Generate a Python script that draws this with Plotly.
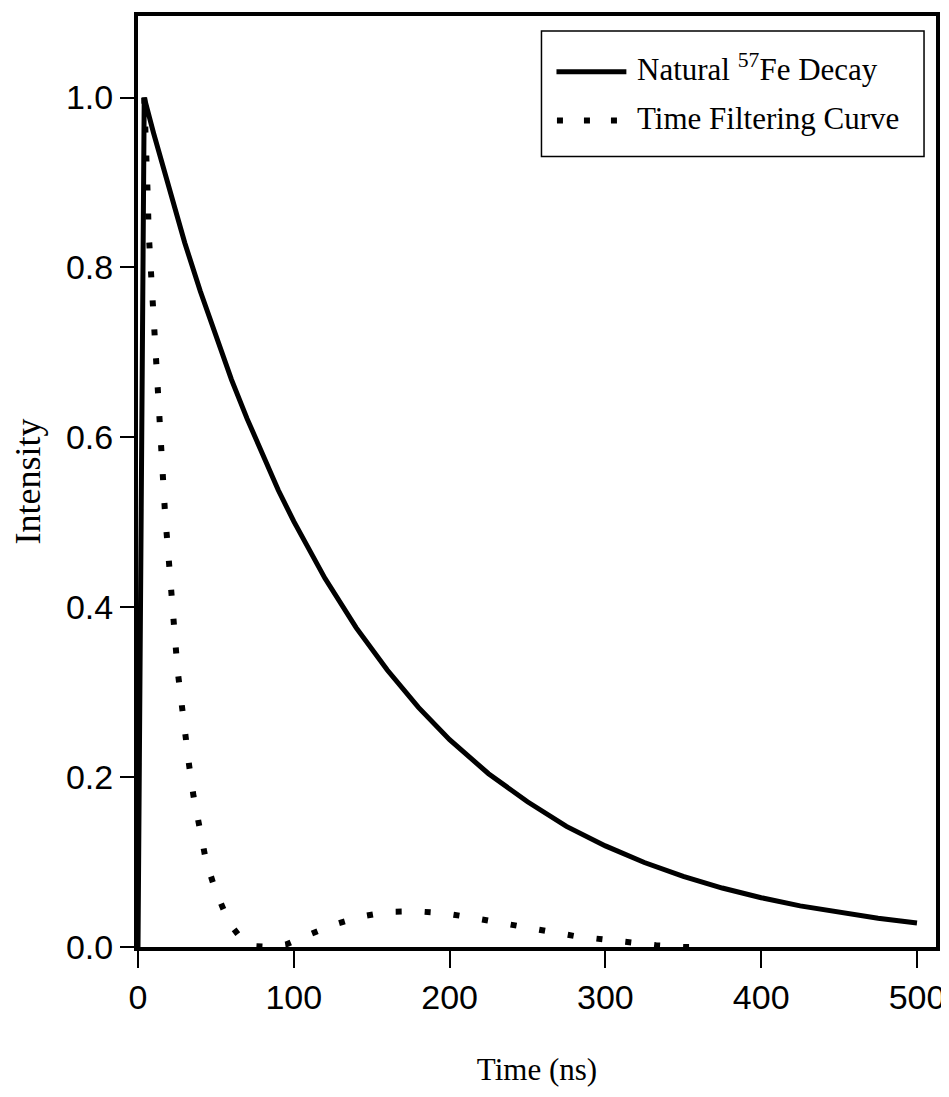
import plotly.graph_objects as go

# ---- data ----
decay_t = [0, 4, 10, 20, 30, 40, 50, 60, 70, 80, 90, 100, 120, 140, 160, 180, 200,
           225, 250, 275, 300, 325, 350, 375, 400, 425, 450, 475, 500]
decay_v = [0.0, 1.0, 0.958, 0.891, 0.829, 0.772, 0.718, 0.668, 0.622, 0.579, 0.538,
           0.501, 0.434, 0.376, 0.326, 0.282, 0.244, 0.204, 0.171, 0.142, 0.119,
           0.0995, 0.0831, 0.0694, 0.058, 0.0484, 0.0404, 0.0338, 0.0282]

filter_t = [4.0, 5.0, 5.8, 6.3, 6.8, 7.9, 9.1, 10.0, 11.0, 12.1, 13.4, 14.7, 16.0, 17.4,
            19.0, 20.4, 21.9, 23.6, 25.4, 27.9, 30.0, 32.8, 35.6, 39.4, 43.6, 49.8,
            58.7, 67, 75, 85, 95, 108.6, 126.2, 143.7, 161.1, 178.4, 195.6, 212.9,
            230.1, 247.6, 264.6, 281.6, 298.5, 315.5, 332.5, 350, 365]
filter_v = [1.0, 0.96, 0.918, 0.881, 0.843, 0.806, 0.770, 0.732, 0.695, 0.658, 0.621,
            0.584, 0.547, 0.509, 0.473, 0.436, 0.399, 0.362, 0.326, 0.288, 0.250,
            0.214, 0.178, 0.140, 0.102, 0.066, 0.028, 0.008, 0.001, 0.0, 0.003,
            0.0137, 0.0266, 0.036, 0.0415, 0.042, 0.040, 0.035, 0.029, 0.023,
            0.018, 0.0125, 0.009, 0.005, 0.002, 0.0, 0.0]

x_ticks = [0, 100, 200, 300, 400, 500]
y_ticks = [0.0, 0.2, 0.4, 0.6, 0.8, 1.0]
y_tick_labels = ["0.0", "0.2", "0.4", "0.6", "0.8", "1.0"]

series_names = ["Natural <sup>57</sup>Fe Decay", "Time Filtering Curve"]

SANS = "Liberation Sans, Arial, sans-serif"
SERIF = "Liberation Serif, Times New Roman, serif"
DOT = "6px,23px"

fig = go.Figure()
fig.add_trace(go.Scatter(x=decay_t, y=decay_v, mode="lines", name=series_names[0],
                         line=dict(color="black", width=5), showlegend=False))
fig.add_trace(go.Scatter(x=filter_t, y=filter_v, mode="lines", name=series_names[1],
                         line=dict(color="black", width=6, dash=DOT), showlegend=False))

axis_common = dict(showline=True, linecolor="black", linewidth=4, mirror=True,
                   showgrid=False, zeroline=False, ticks="outside", tickcolor="black",
                   tickwidth=1.5)

fig.update_xaxes(range=[0, 512.2], tickvals=x_ticks, ticklen=17,
                 tickfont=dict(family=SANS, size=34, color="black"),
                 title=dict(text="Time (ns)", font=dict(family=SERIF, size=31, color="black"),
                            standoff=45),
                 **axis_common)
fig.update_yaxes(range=[0, 1.096], tickvals=y_ticks, ticktext=y_tick_labels, ticklen=14,
                 tickfont=dict(family=SANS, size=34, color="black"),
                 title=dict(text="Intensity", font=dict(family=SERIF, size=36, color="black"),
                            standoff=22),
                 **axis_common)

# legend box drawn in paper coordinates
fig.add_shape(type="rect", xref="paper", yref="paper", x0=0.5056, x1=0.985, y0=0.849, y1=0.984,
              line=dict(color="black", width=1.5), fillcolor="white")
fig.add_shape(type="line", xref="paper", yref="paper", x0=0.5244, x1=0.612, y0=0.9401, y1=0.9401,
              line=dict(color="black", width=5))
fig.add_shape(type="line", xref="paper", yref="paper", x0=0.525, x1=0.601, y0=0.8877, y1=0.8877,
              line=dict(color="black", width=6, dash="6px,21px"))
for name, yy in zip(series_names, [0.945, 0.890]):
    fig.add_annotation(xref="paper", yref="paper", x=0.6233, y=yy, text=name, showarrow=False,
                       xanchor="left", yanchor="middle",
                       font=dict(family=SERIF, size=31, color="black"))

# page body has an 8px margin, so the figure is sized to fit the 949x1097 window
fig.update_layout(width=941, height=1081, plot_bgcolor="white", paper_bgcolor="white",
                  margin=dict(l=130, r=12, t=4, b=142))

fig.write_html("out.html")
